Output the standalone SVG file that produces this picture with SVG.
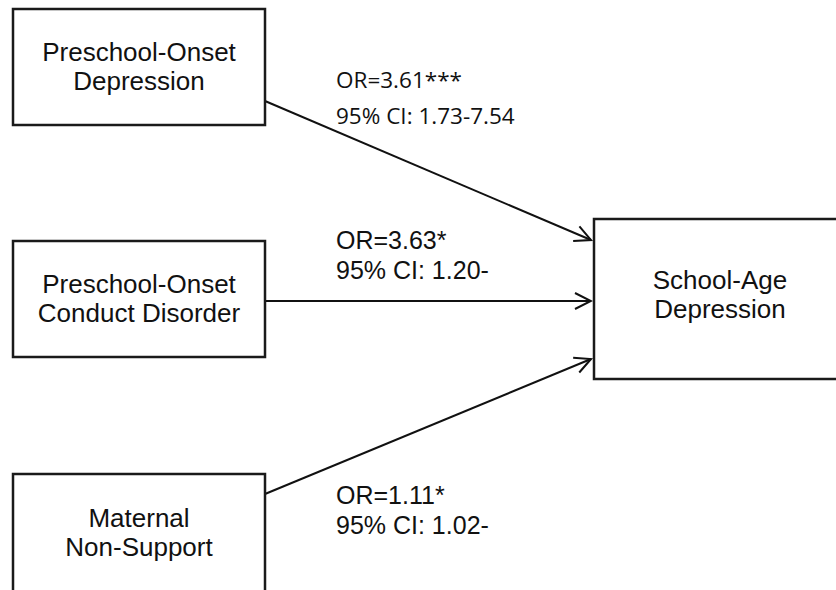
<svg xmlns="http://www.w3.org/2000/svg" width="836" height="590" viewBox="0 0 836 590">
<defs>
<style>
.box{fill:#fff;stroke:#1a1a1a;stroke-width:2.5}
.lbl{font-family:"Liberation Sans",Arial,sans-serif;font-size:26px;fill:#111;text-anchor:middle}
.or{font-family:"Liberation Sans",Arial,sans-serif;font-size:25px;fill:#111}
.orc{font-family:"Open Sans","Noto Sans",sans-serif;font-size:22.5px;fill:#111}
.edge{stroke:#111;stroke-width:2;fill:none;marker-end:url(#arr)}
</style>
<marker id="arr" markerUnits="userSpaceOnUse" markerWidth="20" markerHeight="20" viewBox="-18 -10 20 20" refX="0" refY="0" orient="auto">
<path d="M-16,-8 L0,0 L-16,8" fill="none" stroke="#111" stroke-width="2"/>
</marker>
</defs>
<rect width="836" height="590" fill="#fff"/>
<g id="connectors">
<line class="edge" x1="265" y1="101" x2="591" y2="240"/>
<line class="edge" x1="265" y1="301" x2="591" y2="301"/>
<line class="edge" x1="265" y1="494" x2="591" y2="359"/>
</g>
<g id="n1">
<rect class="box" x="13" y="9" width="252" height="116"/>
<text class="lbl" x="139" y="61">Preschool-Onset</text>
<text class="lbl" x="139" y="90">Depression</text>
</g>
<g id="n2">
<rect class="box" x="13" y="241" width="252" height="116"/>
<text class="lbl" x="139" y="293">Preschool-Onset</text>
<text class="lbl" x="139" y="322">Conduct Disorder</text>
</g>
<g id="n3">
<rect class="box" x="13" y="474" width="252" height="124"/>
<text class="lbl" x="139" y="527">Maternal</text>
<text class="lbl" x="139" y="556">Non-Support</text>
</g>
<g id="n4">
<rect class="box" x="594" y="219" width="260" height="160"/>
<text class="lbl" x="720" y="289">School-Age</text>
<text class="lbl" x="720" y="318">Depression</text>
</g>
<g id="labels">
<text class="orc" x="336" y="88">OR=3.61***</text>
<text class="orc" x="336" y="124">95% CI: 1.73-7.54</text>
<text class="or" x="336" y="249">OR=3.63*</text>
<text class="or" x="336" y="279">95% CI: 1.20-</text>
<text class="or" x="336" y="504">OR=1.11*</text>
<text class="or" x="336" y="534">95% CI: 1.02-</text>
</g>
</svg>
